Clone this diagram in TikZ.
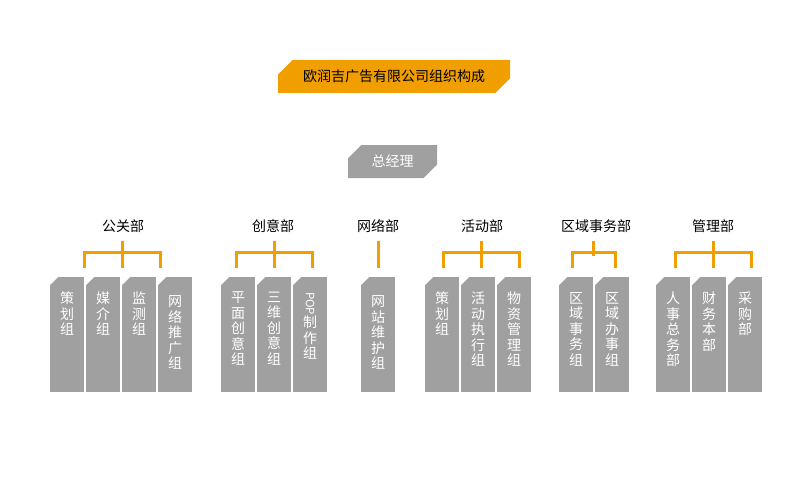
\documentclass[tikz,border=0pt]{standalone}
\usepackage{fontspec}
\setmainfont{Noto Sans CJK SC}
\usetikzlibrary{shapes.misc,positioning}

\definecolor{titleorange}{RGB}{240,158,0}
\definecolor{boxgray}{RGB}{160,160,160}

\tikzset{
    titlebox/.style={chamfered rectangle, chamfered rectangle corners={north west,south east},
        chamfered rectangle sep=8pt, fill=titleorange, inner sep=0pt,
        minimum width=232pt, minimum height=33pt, font=\fontsize{14}{16}\selectfont},
    gmbox/.style={chamfered rectangle, chamfered rectangle corners={north west,south east},
        chamfered rectangle sep=7pt, fill=boxgray, inner sep=0pt, text=white,
        minimum width=89pt, minimum height=33pt, font=\fontsize{14}{16}\selectfont},
    deptlabel/.style={inner sep=0pt, font=\fontsize{14}{16}\selectfont},
    unit/.style={rectangle, fill=boxgray, inner sep=0pt,
        minimum width=34pt, minimum height=115pt,
        path picture={\fill[white] (path picture bounding box.north west)
            -- ++(8pt,0pt) -- ++(-8pt,-8pt) -- cycle;}},
    unittext/.style={anchor=north, inner sep=0pt, align=center, text=white,
        font=\fontsize{14}{15.5}\selectfont},
    bracket/.style={draw=titleorange, line width=3pt, line join=miter}
}

\begin{document}
\begin{tikzpicture}[x=1pt,y=-1pt]
    \useasboundingbox (0,0) rectangle (800,500);
    % Title and top box
    \node[titlebox] (title) at (394,76.5) {欧润吉广告有限公司组织构成};
    \node[gmbox] (gm) at (392.5,161.5) {总经理};
    % Department labels
    \node[deptlabel] (gg) at (123,226) {公关部};
    \node[deptlabel] (cy) at (273,226) {创意部};
    \node[deptlabel] (wl) at (378,226) {网络部};
    \node[deptlabel] (hd) at (482,226) {活动部};
    \node[deptlabel] (qy) at (596,226) {区域事务部};
    \node[deptlabel] (gl) at (713,226) {管理部};
    % Brackets
    \coordinate (ggl) at (84,268); \coordinate (ggr) at (160,268);
    \coordinate (ggc) at (122,241); \coordinate (ggb) at (122,268);
    \coordinate (cyl) at (236,268); \coordinate (cyr) at (312,268);
    \coordinate (cyc) at (274,241); \coordinate (cyb) at (274,268);
    \coordinate (wlc) at (378,241); \coordinate (wlb) at (378,268);
    \coordinate (hdl) at (443,268); \coordinate (hdr) at (519,268);
    \coordinate (hdc) at (481,241); \coordinate (hdb) at (481,268);
    \coordinate (qyl) at (572,268); \coordinate (qyr) at (615,268);
    \coordinate (qyc) at (593,241); \coordinate (qyb) at (593,256);
    \coordinate (gll) at (675,268); \coordinate (glr) at (751,268);
    \coordinate (glc) at (713,241); \coordinate (glb) at (713,268);
    \coordinate (bar) at (0,252.5);
    \draw[bracket] (ggl) |- (bar -| ggr) -- (ggr);
    \draw[bracket] (ggc) -- (ggb);
    \draw[bracket] (cyl) |- (bar -| cyr) -- (cyr);
    \draw[bracket] (cyc) -- (cyb);
    \draw[bracket] (wlc) -- (wlb);
    \draw[bracket] (hdl) |- (bar -| hdr) -- (hdr);
    \draw[bracket] (hdc) -- (hdb);
    \draw[bracket] (qyl) |- (bar -| qyr) -- (qyr);
    \draw[bracket] (qyc) -- (qyb);
    \draw[bracket] (gll) |- (bar -| glr) -- (glr);
    \draw[bracket] (glc) -- (glb);
    % Unit boxes
    \node[unit] (gg1) at (67,334.5) {};
    \node[unit] (gg2) at (103,334.5) {};
    \node[unit] (gg3) at (139,334.5) {};
    \node[unit] (gg4) at (175,334.5) {};
    \node[unit] (cy1) at (238,334.5) {};
    \node[unit] (cy2) at (274,334.5) {};
    \node[unit] (cy3) at (310,334.5) {};
    \node[unit] (wl1) at (378,334.5) {};
    \node[unit] (hd1) at (442,334.5) {};
    \node[unit] (hd2) at (478,334.5) {};
    \node[unit] (hd3) at (514,334.5) {};
    \node[unit] (qy1) at (576,334.5) {};
    \node[unit] (qy2) at (612,334.5) {};
    \node[unit] (gl1) at (673,334.5) {};
    \node[unit] (gl2) at (709,334.5) {};
    \node[unit] (gl3) at (745,334.5) {};
    % Unit texts
    \node[unittext, below=15pt of gg1.north] {策\\划\\组};
    \node[unittext, below=15pt of gg2.north] {媒\\介\\组};
    \node[unittext, below=15pt of gg3.north] {监\\测\\组};
    \node[unittext, below=19pt of gg4.north] {网\\络\\推\\广\\组};
    \node[unittext, below=15pt of cy1.north] {平\\面\\创\\意\\组};
    \node[unittext, below=15pt of cy2.north] {三\\维\\创\\意\\组};
    \node[unittext, below=15pt of cy3.north] {{\fontsize{11.5}{11.5}\selectfont\rotatebox{-90}{POP}}\\制\\作\\组};
    \node[unittext, below=19pt of wl1.north] {网\\站\\维\\护\\组};
    \node[unittext, below=15pt of hd1.north] {策\\划\\组};
    \node[unittext, below=15pt of hd2.north] {活\\动\\执\\行\\组};
    \node[unittext, below=15pt of hd3.north] {物\\资\\管\\理\\组};
    \node[unittext, below=15pt of qy1.north] {区\\域\\事\\务\\组};
    \node[unittext, below=15pt of qy2.north] {区\\域\\办\\事\\组};
    \node[unittext, below=15pt of gl1.north] {人\\事\\总\\务\\部};
    \node[unittext, below=15pt of gl2.north] {财\\务\\本\\部};
    \node[unittext, below=15pt of gl3.north] {采\\购\\部};
\end{tikzpicture}
\end{document}
